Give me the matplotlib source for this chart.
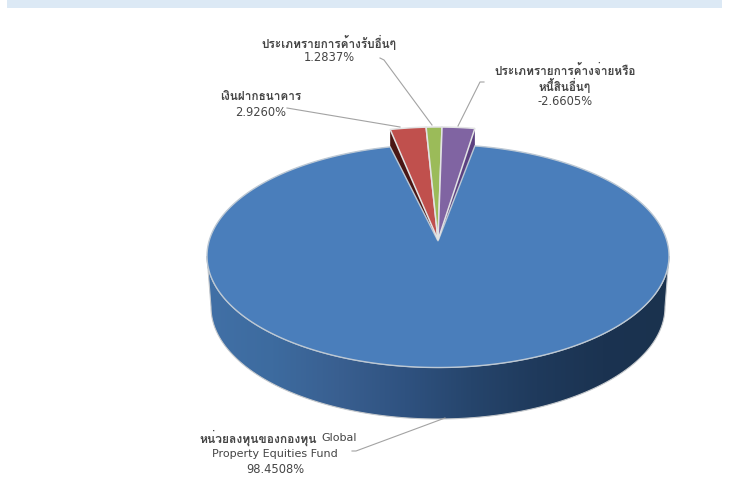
import numpy as np
import matplotlib
matplotlib.use("Agg")
import matplotlib.pyplot as plt
from matplotlib.colors import LinearSegmentedColormap
from matplotlib.patches import Polygon

labels = [["หน่วยลงทุนของกองทุน", "Property Equities Fund"],
          ["เงินฝากธนาคาร"],
          ["ประเภทรายการค้างรับอื่นๆ"],
          ["ประเภทรายการค้างจ่ายหรือ", "หนี้สินอื่นๆ"]]
values = [98.4508, 2.9260, 1.2837, -2.6605]
pct_text = ["98.4508%", "2.9260%", "1.2837%", "-2.6605%"]

plt.rcParams['font.family'] = ['DejaVu Sans', 'Loma']
THAI = ['Loma', 'DejaVu Sans']
GREY = '#454545'

cx, cy, rx, ry = 438, 256, 231, 111.5
depth = 51
top_y = 240  # small slices are pulled up to here


def rim(t, y0=cy, r_y=ry, r_x=rx):
    t = np.radians(t)
    return np.column_stack([cx + r_x * np.sin(t), y0 - r_y * np.cos(t)])


fig = plt.figure(figsize=(7.32, 4.94), dpi=100)
ax = fig.add_axes([0, 0, 1, 1])
ax.axis('off')
ax.fill_between([7, 722], 0, 8.5, color='#dce9f5', lw=0)

# slice angles, the chart squeezes the small ones a bit
sizes = np.abs(values)
ang = sizes / sizes.sum() * 360 * 0.9
pur0, pur1 = 1, 1 + ang[3]
gre0 = pur0 - ang[2]
red0 = gre0 - ang[1]

# blue wall with gradient, bottom ellipse a little smaller
tt = np.linspace(90, 270, 200)
wall = np.vstack([rim(tt), rim(tt[::-1], cy + depth, ry + 0.5, rx - 4)])
side_cmap = LinearSegmentedColormap.from_list(
    'side', ['#4170a6', '#3d6b9f', '#395f90', '#2f5280', '#26456c', '#1f3a5c', '#1b3351', '#1a324e'])
im = ax.imshow(np.linspace(0, 1, 256)[None, :], extent=[cx - rx, cx + rx, cy + ry + depth + 5, cy - 5],
               cmap=side_cmap, aspect='auto', zorder=1)
wall_patch = Polygon(wall, closed=True, fc='none', ec='#c4c8cc', lw=0.8, zorder=2)
ax.add_patch(wall_patch)
im.set_clip_path(wall_patch)

# dark sides of the small slices, blue covers most of them
apex = np.array([cx, top_y])
red_edge = np.vstack([apex, rim(red0, top_y, 113)])
pur_edge = np.vstack([apex, rim(pur1, top_y, 113)])
gre_edge = np.vstack([apex, rim(gre0, top_y, 113)])
for edge, col in [(red_edge, '#4a1614'), (gre_edge, '#3f5220'), (pur_edge, '#5b4080')]:
    ax.add_patch(Polygon(np.vstack([edge, edge[::-1] + [0, 26]]), closed=True, fc=col, ec='none', zorder=3))

# blue top, its notch ends at the tip of the small slices
tb = np.linspace(pur1, red0 + 360, 400)
ax.add_patch(Polygon(np.vstack([rim(tb), apex + [0, 1]]), closed=True,
                     fc='#4a7ebb', ec='#bcc8d4', lw=1, zorder=4))

# small slice tops
for t0, t1, col in [(red0, gre0, '#c0504d'), (gre0, pur0, '#9bbb59'), (pur0, pur1, '#8064a2')]:
    arc = rim(np.linspace(t0, t1, 20), top_y, 113)
    ax.add_patch(Polygon(np.vstack([apex, arc]), closed=True, fc=col, ec='#e2e3e4', lw=1.1, zorder=5))

# leader lines
leaders = [([352, 356, 445], [451, 451, 418]),
           ([287, 400], [108, 127]),
           ([380, 384, 432], [58, 60, 125]),
           ([484, 480, 458], [82, 82, 126])]
for xs, ys in leaders:
    ax.plot(xs, ys, color='#a3a3a3', lw=0.8, zorder=6)

# labels, one text per line so the thai can go heavier than the numbers
label_xy = [(275, 438), (261, 97), (329, 42), (565, 70)]
pitch = 15.5
for (x, y), lines, p in zip(label_xy, labels, pct_text):
    for i, line in enumerate(lines):
        if i == 0 and "หน่วย" in line:
            ax.text(317, y, line, ha='right', va='center', fontsize=8.7, fontweight='bold',
                    family=THAI, color=GREY, zorder=7)
            ax.text(321, y, "Global", ha='left', va='center', fontsize=8, color=GREY, zorder=7)
        elif line.isascii():
            ax.text(x, y + i * pitch, line, ha='center', va='center', fontsize=8, color=GREY, zorder=7)
        else:
            ax.text(x, y + i * pitch, line, ha='center', va='center', fontsize=8.5, fontweight='bold',
                    family=THAI, color=GREY, zorder=7)
    ax.text(x, y + len(lines) * pitch, p, ha='center', va='center', fontsize=8.3, color=GREY, zorder=7)

ax.set_xlim(0, 732)
ax.set_ylim(494, 0)
fig.savefig("out.png", dpi=100)
